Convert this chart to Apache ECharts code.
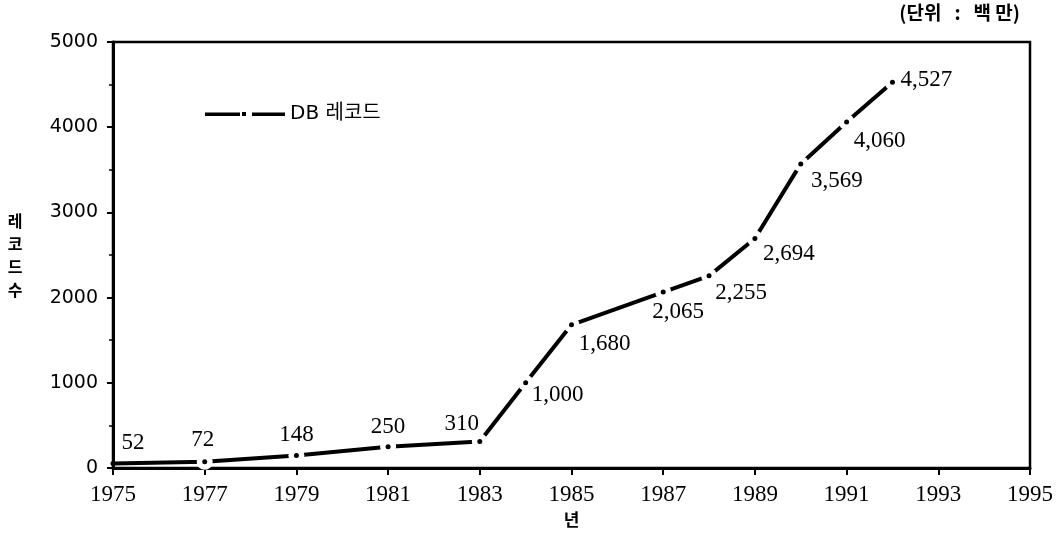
<!DOCTYPE html>
<html>
<head>
<meta charset="utf-8">
<script src="https://cdn.jsdelivr.net/npm/echarts@6/dist/echarts.min.js"></script>
<style>
  html, body { margin: 0; padding: 0; background: #fff; }
  #main { width: 1059px; height: 539px; }
</style>
</head>
<body>
<div id="main"></div>
<script>
// 연도별 DB 레코드 수 (단위: 백만)
var years = [1975, 1977, 1979, 1981, 1983, 1984, 1985, 1987, 1988, 1989, 1990, 1991, 1992];
var records = [52, 72, 148, 250, 310, 1000, 1680, 2065, 2255, 2694, 3569, 4060, 4527];
var xTicks = [1975, 1977, 1979, 1981, 1983, 1985, 1987, 1989, 1991, 1993, 1995];
// 값 라벨 위치 (점 기준 px)
var labelOffsets = [[20, -21], [-2, -22], [0, -20], [0, -20], [-18, -18], [32, 12], [33, 19],
                    [15, 20], [32, 17], [34, 15], [36, 17], [33, 19], [34, -2]];

var fmt = function (v) {
  return String(v).replace(/\B(?=(\d{3})+(?!\d))/g, ',');
};

var chart = echarts.init(document.getElementById('main'), null, {renderer: 'canvas'});

var pts = years.map(function (y, i) { return [y, records[i]]; });
var dotData = years.map(function (y, i) {
  return {value: [y, records[i]], label: {offset: labelOffsets[i]}};
});

var option = {
  animation: false,
  backgroundColor: '#fff',
  grid: {
    left: 113, right: 29, top: 42, bottom: 71,
    show: true, borderColor: '#000', borderWidth: 2.5
  },
  legend: {
    left: 200, top: 99,
    data: [{
      name: 'DB 레코드',
      icon: 'path://M0 1.5h35v3.5H0z M37 1h4v4h-4z M47 1.5h33v3.5H47z',
      itemStyle: {color: '#000', borderWidth: 0}
    }],
    itemWidth: 80, itemHeight: 4,
    textStyle: {fontFamily: 'DejaVu Sans, Noto Sans CJK KR', fontSize: 20, color: '#000'},
    selectedMode: false
  },
  xAxis: {
    type: 'value', min: 1975, max: 1995,
    name: '년', nameLocation: 'middle', nameGap: 29,
    nameTextStyle: {fontFamily: 'Noto Sans CJK KR', fontSize: 17, fontWeight: 'bold', color: '#000'},
    axisLine: {lineStyle: {color: '#000', width: 3}},
    axisTick: {show: true, customValues: xTicks, length: 7, lineStyle: {color: '#000', width: 2}},
    axisLabel: {
      customValues: xTicks, margin: 15, color: '#000',
      fontFamily: 'Liberation Serif', fontSize: 23,
      formatter: function (v) { return String(v); }
    },
    splitLine: {show: false}
  },
  yAxis: {
    type: 'value', min: 0, max: 5000, interval: 1000,
    name: '레\n코\n드\n수', nameLocation: 'middle', nameRotate: 0, nameGap: 98,
    nameTextStyle: {
      fontFamily: 'Noto Sans CJK KR', fontSize: 16, fontWeight: 'bold', color: '#000',
      lineHeight: 23, align: 'center', verticalAlign: 'middle'
    },
    axisLine: {show: true, lineStyle: {color: '#000', width: 3}},
    axisTick: {show: true, length: 6, lineStyle: {color: '#000', width: 2}},
    minorTick: {show: true, splitNumber: 2, length: 4, lineStyle: {color: '#000', width: 1.5}},
    axisLabel: {
      margin: 15, color: '#000', fontFamily: 'DejaVu Sans', fontSize: 19,
      formatter: function (v) { return String(v); }
    },
    splitLine: {show: false}
  },
  graphic: [{
    type: 'text', right: 39, top: 3,
    style: {
      text: '(단위   :   백 만)', fill: '#000',
      font: 'bold 19px "Noto Sans CJK KR"'
    }
  }],
  series: [
    {
      name: 'DB 레코드', type: 'line', z: 2, data: pts,
      symbol: 'none',
      lineStyle: {color: '#000', width: 4},
      emphasis: {disabled: true}, silent: true
    },
    {
      // 점 주위의 끊김
      name: 'gap', type: 'scatter', z: 3, data: pts.slice(1),
      symbol: 'circle', symbolSize: 16,
      itemStyle: {color: 'rgb(254,254,254)', opacity: 1},
      emphasis: {disabled: true}, silent: true
    },
    {
      name: 'dots', type: 'scatter', data: dotData, z: 4,
      symbol: 'circle', symbolSize: 5,
      itemStyle: {color: '#000', opacity: 1},
      label: {
        show: true, position: 'inside', color: '#000',
        fontFamily: 'Liberation Serif', fontSize: 23,
        formatter: function (p) { return fmt(p.value[1]); }
      },
      emphasis: {disabled: true}, silent: true
    }
  ]
};

chart.setOption(option);
</script>
</body>
</html>
